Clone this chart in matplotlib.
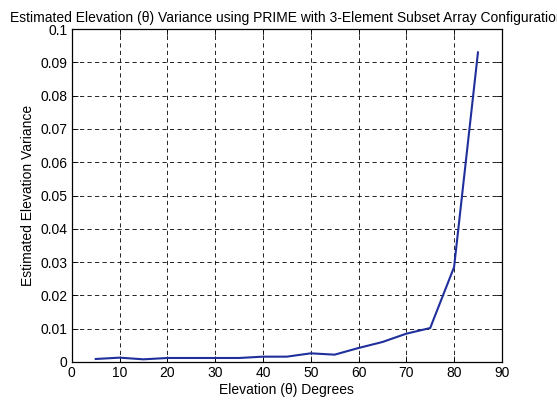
import numpy as np
import matplotlib.pyplot as plt
from matplotlib.ticker import FuncFormatter

# Elevation angles (degrees) and estimated variance
elevacion = [5, 10, 15, 20, 25, 30, 35, 40, 45, 50, 55, 60, 65, 70, 75, 80, 85]
varianza = [0.0009, 0.0013, 0.0008, 0.0012, 0.0012, 0.0012, 0.0012, 0.0016, 0.0016,
            0.0026, 0.0022, 0.0042, 0.0060, 0.0085, 0.0102, 0.0285, 0.0930]

xticks = np.arange(0, 91, 10)
yticks = np.arange(0, 0.1001, 0.01)

plt.rcParams['font.family'] = ['Liberation Sans', 'DejaVu Sans']
plt.rcParams['font.size'] = 10

fig = plt.figure(figsize=(5.57, 4.04), dpi=100)
ax = fig.add_axes([0.129, 0.104, 0.772, 0.824])

ax.plot(elevacion, varianza, color='#1f2f9c', linewidth=1.5)

ax.set_xlim(0, 90)
ax.set_ylim(0, 0.1)
ax.set_xticks(xticks)
ax.set_yticks(yticks)
ax.yaxis.set_major_formatter(FuncFormatter(lambda v, p: '%g' % round(v, 3)))
ax.tick_params(direction='in', top=True, right=True, length=4, width=0.6,
               colors='black', labelsize=10, pad=3)
ax.grid(True, color='black', linestyle=(0, (5, 4)), linewidth=0.6)
for s in ax.spines.values():
    s.set_linewidth(0.9)

ax.set_xlabel('Elevation (θ) Degrees', fontsize=10, labelpad=2)
ax.set_ylabel('Estimated Elevation Variance', fontsize=10, labelpad=4)
ax.set_title('Estimated Elevation (θ) Variance using PRIME with 3-Element Subset Array Configuration',
             fontsize=10, pad=5)

fig.savefig('out.png', dpi=100)
